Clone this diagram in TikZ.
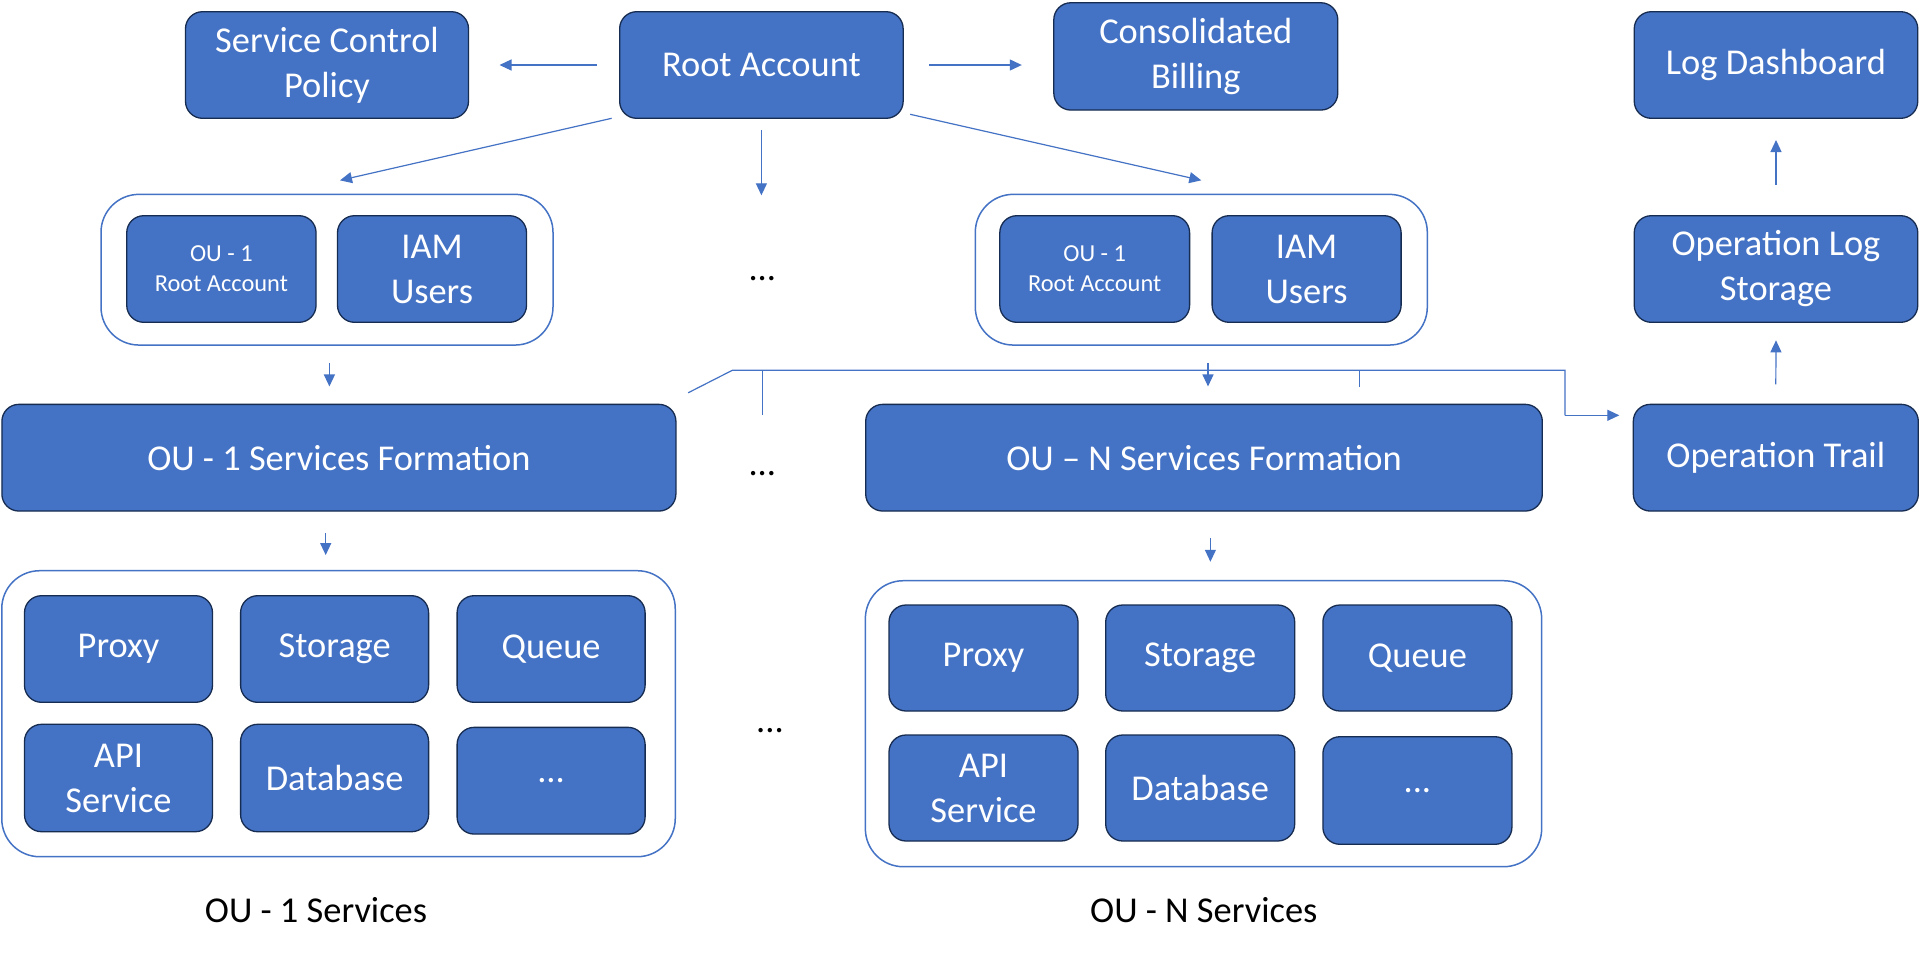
\documentclass[tikz,border=0pt]{standalone}
\usepackage{fontspec}
\setmainfont{Carlito}
\usetikzlibrary{arrows.meta}
\definecolor{ofblue}{HTML}{4472C4}
\definecolor{ofdark}{HTML}{172C51}
\begin{document}
\begin{tikzpicture}[x=1pt,y=-1pt,
  bx/.style 2 args={draw=ofdark, line width=1.3pt, fill=ofblue, rounded corners=17pt,
    text=white, align=center, inner sep=0pt, outer sep=0pt,
    minimum width=#1, minimum height=#2, font=\fontsize{36.4}{45}\selectfont},
  small/.style={font=\fontsize{24.4}{30}\selectfont},
  grp/.style 2 args={draw=ofblue, line width=1.5pt, fill=white, rounded corners=38pt,
    inner sep=0pt, outer sep=0pt, minimum width=#1, minimum height=#2},
  lbl/.style={text=black, inner sep=0pt, font=\fontsize{36.4}{45}\selectfont},
  arr/.style={draw=ofblue, line width=1.2pt, -{Triangle[length=12pt,width=11pt]}},
  ln/.style={draw=ofblue, line width=1.2pt}
]
\useasboundingbox[fill=white] (0,0) rectangle (1919,954);

% top row
\node[bx={283pt}{106.6pt}] (scp) at (327,65) {Service Control\\Policy};
\node[bx={283.5pt}{106.6pt}] (root) at (761.4,65) {Root Account};
\node[bx={284pt}{107.3pt}] (cb) at (1195.8,56.4) {Consolidated\\Billing};
\node[bx={283.5pt}{106.6pt}] (ld) at (1776,65) {Log Dashboard};

% OU groups
\node[grp={452pt}{150.7pt}] (g1) at (327,269.7) {};
\node[bx={189.3pt}{106.6pt}, small] (r1) at (221.4,269) {OU - 1\\Root Account};
\node[bx={189pt}{106.6pt}] (iam1) at (432,269) {IAM\\Users};
\node[lbl] (dots1) at (762.3,279) {...};

\node[grp={452pt}{150.7pt}] (gN) at (1201.3,269.7) {};
\node[bx={189.8pt}{106.6pt}, small] (rN) at (1094.7,269) {OU - 1\\Root Account};
\node[bx={189pt}{106.6pt}] (iamN) at (1306.6,269) {IAM\\Users};

\node[bx={283.5pt}{106.6pt}] (ols) at (1776,269) {Operation Log\\Storage};

% formations
\node[bx={674pt}{106.7pt}] (f1) at (338.9,457.7) {OU - 1 Services Formation};
\node[lbl] (dots2) at (762.3,474) {...};
\node[bx={676.6pt}{106.7pt}] (fN) at (1204,457.7) {OU {\char"2013} N Services Formation};
\node[bx={285pt}{106.7pt}] (trail) at (1775.8,457.7) {Operation Trail};

% services groups
\node[grp={673.5pt}{286pt}] (s1) at (338.5,713.7) {};
\node[bx={188pt}{106.6pt}] (p1) at (118.5,649) {Proxy};
\node[bx={188pt}{106.6pt}] (st1) at (334.6,649) {Storage};
\node[bx={188pt}{106.6pt}] (q1) at (551.1,649) {Queue};
\node[bx={188pt}{107.4pt}] (a1) at (118.5,778) {API\\Service};
\node[bx={188pt}{107.4pt}] (d1) at (334.6,778) {Database};
\node[bx={188pt}{106.7pt}] (m1) at (551.1,780.7) {...};
\node[lbl] (dots3) at (770,731) {...};
\node[lbl] (l1) at (316,910) {OU - 1 Services};

\node[grp={676.3pt}{286pt}] (sN) at (1203.5,723.7) {};
\node[bx={189pt}{106pt}] (pN) at (983.5,658) {Proxy};
\node[bx={189pt}{106pt}] (stN) at (1200.2,658) {Storage};
\node[bx={189pt}{106pt}] (qN) at (1417.4,658) {Queue};
\node[bx={189pt}{106pt}] (aN) at (983.5,788) {API\\Service};
\node[bx={189pt}{106pt}] (dN) at (1200.2,788) {Database};
\node[bx={189pt}{107.6pt}] (mN) at (1417.4,790.5) {...};
\node[lbl] (lN) at (1203.75,910) {OU - N Services};

% arrows from root
\draw[arr] ([xshift=-23pt]root.west) -- ([xshift=31pt]scp.east |- root.west);
\draw[arr] ([xshift=26pt]root.east) -- ([xshift=-32pt]cb.west |- root.east);
\draw[arr] ([xshift=-8pt]root.south west) -- ([xshift=13pt,yshift=14pt]g1.north);
\draw[arr] ([xshift=7pt,yshift=4pt]root.south east) -- ([yshift=14pt]gN.north);
\draw[arr] ([yshift=-12pt]root.south) -- ([yshift=-77pt]root.south);

% down arrows
\draw[arr] ([xshift=2.4pt,yshift=-18pt]g1.south) -- ++(0,23.4);
\draw[arr] ([xshift=6.7pt,yshift=-18pt]gN.south) -- ++(0,23.4);
\draw[arr] ([xshift=-13.2pt,yshift=-21.7pt]f1.south) -- ++(0,22.3);
\draw[arr] ([xshift=6.4pt,yshift=-27.3pt]fN.south) -- ++(0,23.4);

% trail line
\coordinate (c1) at (732.3,370.3);
\coordinate (c2) at (1565,370.3);
\coordinate (c3) at (1565,415.3);
\draw[ln] ([xshift=12.3pt,yshift=11.6pt]f1.north east) -- (c1) -- (c2) -- (c3);
\draw[arr] (c3) -- ([xshift=-14pt]trail.north west |- c3);
\coordinate (t1) at (762.3,370.3);
\coordinate (t2) at (1359.2,370.3);
\draw[ln] (t1) -- ++(0,45);
\draw[ln] (t2) -- ++(0,16.4);

% right column arrows
\draw[arr] ([yshift=20pt]trail.north) -- ([yshift=-18pt]ols.south);
\draw[arr] ([yshift=30.7pt]ols.north) -- ([yshift=-21.7pt]ld.south);
\end{tikzpicture}
\end{document}
